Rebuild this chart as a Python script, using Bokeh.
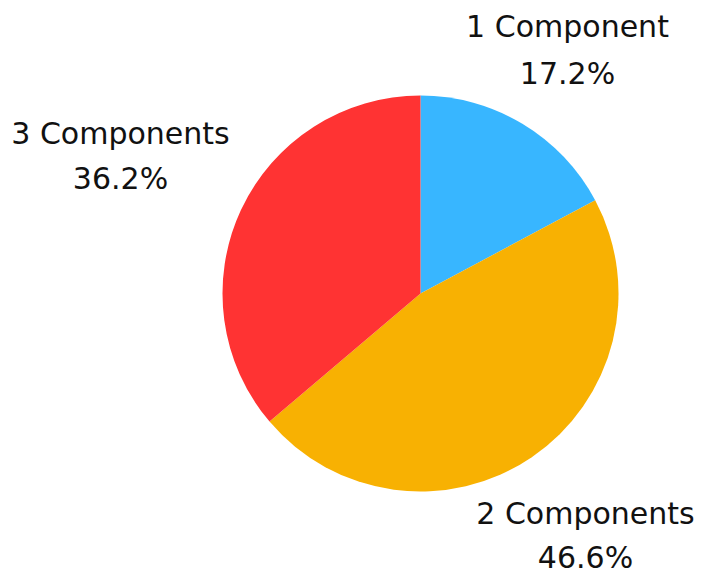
import numpy as np
from bokeh.plotting import figure
from bokeh.models import Range1d, ColumnDataSource
from bokeh.core.properties import value
from bokeh.embed import file_html
from bokeh.resources import INLINE

categories = ["1 Component", "2 Components", "3 Components"]
shares = [17.2, 46.6, 36.2]
colors = ["#38B6FF", "#F8B102", "#FF3333"]

W, H = 701, 573
p = figure(width=W, height=H, output_backend="svg", toolbar_location=None,
           x_range=Range1d(0, W), y_range=Range1d(0, H),
           min_border=0)
p.axis.visible = False
p.grid.visible = False
p.outline_line_color = None
p.background_fill_color = "white"
p.border_fill_color = "white"

cx, cy, r = 420, 573 - 293, 198
vals = np.array(shares)
frac = vals / vals.sum()
ends = np.pi / 2 - np.concatenate([[0], np.cumsum(frac)[:-1]]) * 2 * np.pi
starts = ends - frac * 2 * np.pi
src = ColumnDataSource(dict(start=starts, end=ends, color=colors))
p.wedge(x=cx, y=cy, radius=r, start_angle="start", end_angle="end",
        fill_color="color", line_color=None, source=src)

# label positions (pixel coords of page), one per category
lab_x = [567, 585, 120]
lab_y1 = [26, 513, 133]
lab_y2 = [73, 557, 178]
names = categories
pcts = [f"{v:.1f}%" for v in shares]
lsrc = ColumnDataSource(dict(x=lab_x, y1=[573 - v for v in lab_y1],
                             y2=[573 - v for v in lab_y2], n=names, pc=pcts))
for ycol, tcol in (("y1", "n"), ("y2", "pc")):
    p.text(x="x", y=ycol, text=tcol, source=lsrc, text_align="center",
           text_baseline="alphabetic", text_font=value("DejaVu Sans"),
           text_font_size="30px", text_color="#111111")

open("out.html", "w").write(file_html(p, INLINE))
